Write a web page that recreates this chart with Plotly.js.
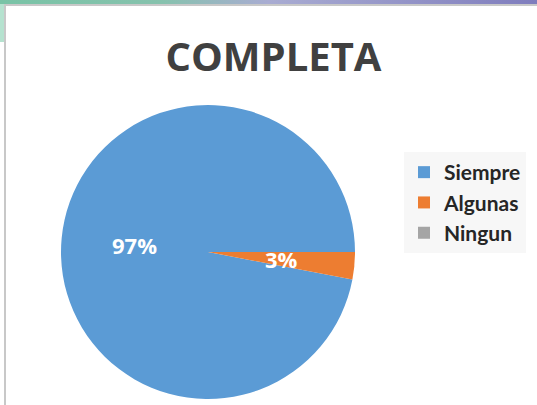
<!DOCTYPE html>
<html>
<head>
<meta charset="utf-8">
<script src="https://cdn.plot.ly/plotly-3.0.1.min.js"></script>
<style>
  html, body { margin: 0; padding: 0; background: #ffffff; }
  #wrap { position: relative; width: 537px; height: 405px; overflow: hidden; background: #ffffff; }
  #chart { position: absolute; left: 0; top: 0; width: 537px; height: 405px; }
  .deco { position: absolute; pointer-events: none; }
</style>
</head>
<body>
<div id="wrap">
  <div id="chart"></div>
  <div class="deco" style="left:0;top:0;width:537px;height:4px;background:linear-gradient(90deg,#79c3a6 0%,#86c2ad 30%,#a9acd2 50%,#7f7dbd 100%);"></div>
  <div class="deco" style="left:0;top:4px;width:5px;height:38px;background:#b5e2cf;"></div>
  <div class="deco" style="left:4px;top:4px;width:533px;height:2px;background:#c8c8c8;"></div>
  <div class="deco" style="left:4px;top:4px;width:2px;height:401px;background:#c8c8c8;"></div>
</div>
<script>
const labels = ['Siempre', 'Algunas', 'Ningun'];
const values = [97, 3, 0];
const colors = ['#5b9bd5', '#ed7d31', '#a5a5a5'];
const chartTitle = 'COMPLETA';

const W = 537, H = 405;
const domX = [61 / W, 355 / W];
const domY = [6 / H, 300 / H];
const rotation = 100.8;

const trace = {
  type: 'pie',
  labels: labels,
  values: values,
  sort: false,
  direction: 'clockwise',
  rotation: rotation,
  marker: { colors: colors, line: { width: 0 } },
  textinfo: 'none',
  textposition: 'none',
  hoverinfo: 'label+percent',
  domain: { x: domX, y: domY },
  automargin: false
};

// Percentage labels placed at half radius on each slice's mid-angle (computed from the data)
const total = values.reduce((a, b) => a + b, 0);
const cx = (domX[0] + domX[1]) / 2 * W;
const cy = H - (domY[0] + domY[1]) / 2 * H;
const R = Math.min((domX[1] - domX[0]) * W, (domY[1] - domY[0]) * H) / 2;
const annotations = [];
let cum = 0;
values.forEach((v, i) => {
  if (v > 0) {
    const midDeg = rotation + (cum + v / 2) / total * 360; // clockwise from 12 o'clock
    const a = midDeg * Math.PI / 180;
    const px = cx + 0.5 * R * Math.sin(a);
    const py = cy - 0.5 * R * Math.cos(a);
    annotations.push({
      xref: 'paper', yref: 'paper',
      x: px / W, y: 1 - py / H,
      xanchor: 'center', yanchor: 'middle',
      text: '<b>' + Math.round(v / total * 100) + '%</b>',
      showarrow: false,
      font: { family: 'Open Sans, sans-serif', size: 22, color: '#ffffff' }
    });
  }
  cum += v;
});

const layout = {
  width: W,
  height: H,
  margin: { l: 0, r: 0, t: 0, b: 0 },
  paper_bgcolor: '#ffffff',
  title: {
    text: '<b>' + chartTitle + '</b>',
    font: { family: 'Open Sans, sans-serif', size: 40, color: '#404040' },
    xref: 'paper', x: 273.5 / W, xanchor: 'center',
    yref: 'paper', y: (H - 57) / H, yanchor: 'middle'
  },
  annotations: annotations,
  showlegend: true,
  legend: {
    x: 404 / W, xanchor: 'left',
    y: (H - 152) / H, yanchor: 'top',
    bgcolor: '#f7f7f7',
    borderwidth: 0,
    font: { family: 'Lato, sans-serif', size: 21, color: '#262626', weight: 'bold' },
    traceorder: 'normal'
  }
};

Plotly.newPlot('chart', [trace], layout, { displayModeBar: false, staticPlot: true });
</script>
</body>
</html>
